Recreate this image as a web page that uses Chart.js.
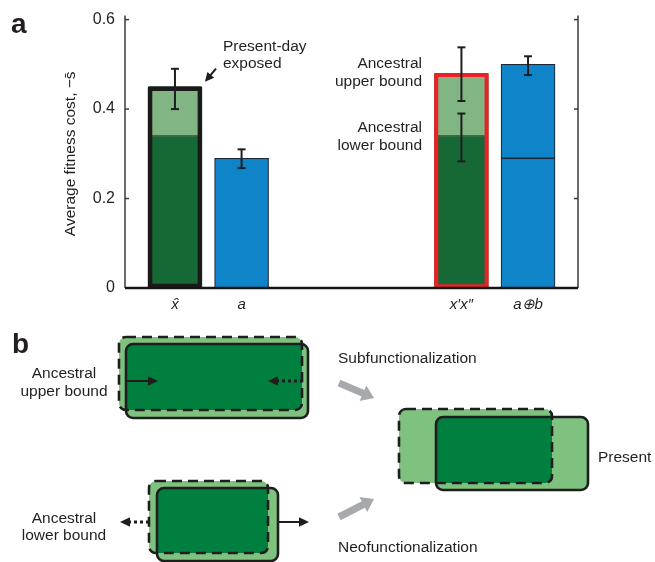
<!DOCTYPE html>
<html>
<head>
<meta charset="utf-8">
<script src="https://cdn.jsdelivr.net/npm/chart.js@4"></script>
<style>
  html, body { margin: 0; padding: 0; background: #fff; }
  #wrap { position: relative; width: 655px; height: 562px; overflow: hidden; }
  #chartBox { position: absolute; left: 0; top: 0; width: 655px; height: 320px; }
  #diagram { position: absolute; left: 0; top: 0; }
  #diagram text { font-family: "Liberation Sans", Arial, sans-serif; fill: #231f20; }
</style>
</head>
<body>
<div id="wrap">
  <div id="chartBox"><canvas id="c" width="655" height="320"></canvas></div>
  <svg id="diagram" width="655" height="562" xmlns="http://www.w3.org/2000/svg"></svg>
</div>
<script>
// ---- data: average fitness cost per gene set ----
const categories   = ['x\u0302', 'a', 'x\u2032x\u2033', 'a\u2295b'];
const positions    = [0.75, 1.75, 5.05, 6.05];     // bar centres on the x scale
const lowerValues  = [0.34, 0.29, 0.34, 0.29];     // lower (dark) segment
const totalValues  = [0.45, 0.29, 0.48, 0.50];     // full bar height
// error bars: bar index, low, high
const errIndex = [0, 1, 2, 2, 3];
const errLow   = [0.40, 0.268, 0.418, 0.283, 0.476];
const errHigh  = [0.49, 0.310, 0.538, 0.390, 0.518];
const yTicks   = [0, 0.2, 0.4, 0.6];

const FONT = '"Liberation Sans", Arial, Helvetica, sans-serif';
const DARK_GREEN = '#166835', LIGHT_GREEN = '#82b584', BLUE = '#0f84c8', NAVY = '#1d2a38';
const isGreen = [true, false, true, false];

function line(ctx, x1, y1, x2, y2) { ctx.beginPath(); ctx.moveTo(x1, y1); ctx.lineTo(x2, y2); ctx.stroke(); }

const axesPlugin = {
  id: 'axesAndNotes',
  afterDatasetsDraw(chart) {
    const { ctx, chartArea: { left, right }, scales: { x, y } } = chart;
    const y0 = y.getPixelForValue(0);
    ctx.save();
    // side axes with inward ticks
    ctx.strokeStyle = '#3a3a3a'; ctx.lineWidth = 1.5;
    [left, right].forEach(px => line(ctx, px, y0, px, y.getPixelForValue(0.6) - 4));
    yTicks.forEach(v => {
      const py = y.getPixelForValue(v);
      line(ctx, left, py, left + 4, py);
      line(ctx, right, py, right - 4, py);
    });
    // baseline
    ctx.strokeStyle = '#151515'; ctx.lineWidth = 2.5;
    line(ctx, left, y0, right, y0);
    // error bars
    ctx.strokeStyle = '#1e1e1e'; ctx.lineWidth = 2;
    errIndex.forEach((bi, k) => {
      const px = x.getPixelForValue(positions[bi]);
      const pl = y.getPixelForValue(errLow[k]), ph = y.getPixelForValue(errHigh[k]);
      line(ctx, px, pl, px, ph);
      line(ctx, px - 4, pl, px + 4, pl);
      line(ctx, px - 4, ph, px + 4, ph);
    });
    // arrow pointing to the exposed bar
    const tipX = x.getPixelForValue(positions[0]) + 30, tipY = y.getPixelForValue(totalValues[0]) - 5;
    const tailX = tipX + 11, tailY = tipY - 13;
    const ang = Math.atan2(tipY - tailY, tipX - tailX);
    ctx.lineWidth = 2;
    line(ctx, tailX, tailY, tipX - 6 * Math.cos(ang), tipY - 6 * Math.sin(ang));
    ctx.fillStyle = '#1e1e1e';
    ctx.beginPath();
    ctx.moveTo(tipX, tipY);
    ctx.lineTo(tipX - 9 * Math.cos(ang) + 4.5 * Math.sin(ang), tipY - 9 * Math.sin(ang) - 4.5 * Math.cos(ang));
    ctx.lineTo(tipX - 9 * Math.cos(ang) - 4.5 * Math.sin(ang), tipY - 9 * Math.sin(ang) + 4.5 * Math.cos(ang));
    ctx.closePath(); ctx.fill();
    // text notes
    ctx.fillStyle = '#231f20';
    ctx.font = '15.5px ' + FONT;
    ctx.textAlign = 'left';
    ctx.fillText('Present-day', 223, 51);
    ctx.fillText('exposed', 223, 68);
    ctx.textAlign = 'right';
    ctx.fillText('Ancestral', 422, 68);
    ctx.fillText('upper bound', 422, 86);
    ctx.fillText('Ancestral', 422, 132);
    ctx.fillText('lower bound', 422, 150);
    // panel letter
    ctx.textAlign = 'left';
    ctx.font = 'bold 28px ' + FONT;
    ctx.fillText('a', 11, 33);
    ctx.restore();
  }
};

new Chart(document.getElementById('c'), {
  type: 'bar',
  data: {
    datasets: [
      {
        label: 'outline',
        data: positions.map((px, i) => ({ x: px, y: [0, totalValues[i]] })),
        backgroundColor: 'rgba(0,0,0,0)',
        borderColor: ['#1a1a1a', 'rgba(0,0,0,0)', '#ec2127', 'rgba(0,0,0,0)'],
        borderWidth: [4, 0, 3.5, 0],
        borderRadius: 2,
        borderSkipped: false
      },
      {
        label: 'upper',
        data: positions.map((px, i) => ({ x: px, y: totalValues[i] > lowerValues[i] ? [lowerValues[i], totalValues[i]] : null })),
        backgroundColor: isGreen.map(g => g ? LIGHT_GREEN : BLUE),
        borderColor: isGreen.map(g => g ? '#3f6b4a' : NAVY),
        borderWidth: 1.2,
        borderSkipped: false
      },
      {
        label: 'lower',
        data: positions.map((px, i) => ({ x: px, y: lowerValues[i] })),
        backgroundColor: isGreen.map(g => g ? DARK_GREEN : BLUE),
        borderColor: isGreen.map(g => g ? '#3f6b4a' : NAVY),
        borderWidth: 1.2,
        borderSkipped: false
      }
    ]
  },
  options: {
    responsive: false,
    animation: false,
    devicePixelRatio: 1,
    layout: { padding: { top: 17, right: 77, left: 0, bottom: 0 } },
    datasets: { bar: { grouped: false, barThickness: 54 } },
    plugins: { legend: { display: false }, tooltip: { enabled: false } },
    scales: {
      x: {
        type: 'linear', min: 0, max: 6.8, offset: false,
        grid: { display: false, drawTicks: false },
        border: { display: false },
        afterBuildTicks: s => { s.ticks = positions.map(v => ({ value: v })); },
        afterFit: s => { s.height = 32; },
        ticks: {
          autoSkip: false, maxRotation: 0, minRotation: 0, padding: 8, color: '#231f20',
          font: { family: FONT, size: 15, style: 'italic' },
          callback: (v, i) => categories[i]
        }
      },
      y: {
        min: 0, max: 0.6,
        grid: { display: false, drawTicks: false },
        border: { display: false },
        afterBuildTicks: s => { s.ticks = yTicks.map(v => ({ value: v })); },
        afterFit: s => { s.width = 125; },
        ticks: {
          padding: 10, color: '#231f20',
          font: { family: FONT, size: 16 },
          callback: v => (v === 0 ? '0' : v.toFixed(1))
        },
        title: {
          display: true, text: 'Average fitness cost, \u2212s\u0304', color: '#231f20',
          font: { family: FONT, size: 15.5 },
          padding: { top: 61, bottom: 0 }
        }
      }
    }
  },
  plugins: [axesPlugin]
});

// ---- panel b: schematic of ancestral bounds ----
const NS = 'http://www.w3.org/2000/svg';
const svg = document.getElementById('diagram');
function el(tag, attrs, parent) {
  const e = document.createElementNS(NS, tag);
  for (const k in attrs) e.setAttribute(k, attrs[k]);
  (parent || svg).appendChild(e);
  return e;
}
const D_GREEN = '#007f3f', L_GREEN = '#7fc280', INK = '#1e1e1e';
const boxes = [
  { dashed: [119, 337, 183, 73], solid: [126, 344, 182, 74] },
  { dashed: [149, 481, 119, 72], solid: [157, 488, 121, 73] },
  { dashed: [399, 409, 153, 74], solid: [436, 417, 152, 73] }
];
const defs = el('defs', {});
boxes.forEach((b, k) => {
  const r = (a, extra) => Object.assign({ x: a[0], y: a[1], width: a[2], height: a[3], rx: 7, ry: 7 }, extra);
  const cp = el('clipPath', { id: 'clip' + k }, defs);
  el('rect', r(b.solid, {}), cp);
  el('rect', r(b.dashed, { fill: L_GREEN }));
  el('rect', r(b.solid, { fill: L_GREEN }));
  el('rect', r(b.dashed, { fill: D_GREEN, 'clip-path': 'url(#clip' + k + ')' }));
  el('rect', r(b.solid, { fill: 'none', stroke: INK, 'stroke-width': 2.6 }));
  el('rect', r(b.dashed, { fill: 'none', stroke: INK, 'stroke-width': 2.6, 'stroke-dasharray': '10 6' }));
});

function arrow(x1, y1, x2, y2, dotted) {
  const a = Math.atan2(y2 - y1, x2 - x1), c = Math.cos(a), s = Math.sin(a);
  const hl = 10, hw = 4.8;
  el('line', { x1, y1, x2: x2 - hl * c + c, y2: y2 - hl * s + s, stroke: INK,
    'stroke-width': dotted ? 3 : 2, 'stroke-dasharray': dotted ? '3 3' : 'none' });
  el('polygon', { fill: INK, points: [x2, y2, x2 - hl * c - hw * s, y2 - hl * s + hw * c, x2 - hl * c + hw * s, y2 - hl * s - hw * c].join(' ') });
}
arrow(127, 381, 158, 381, false);
arrow(303, 381, 268, 381, true);
arrow(149, 522, 120, 522, true);
arrow(278, 522, 309, 522, false);

function fatArrow(x1, y1, x2, y2) {
  const a = Math.atan2(y2 - y1, x2 - x1), c = Math.cos(a), s = Math.sin(a);
  const sw = 3.6, hl = 12, hw = 8.5;
  const bx = x2 - hl * c, by = y2 - hl * s;
  const pts = [
    [x1 - sw * s, y1 + sw * c], [bx - sw * s, by + sw * c], [bx - hw * s, by + hw * c],
    [x2, y2], [bx + hw * s, by - hw * c], [bx + sw * s, by - sw * c], [x1 + sw * s, y1 - sw * c]
  ];
  el('polygon', { fill: '#a7a9ac', points: pts.map(p => p.join(',')).join(' ') });
}
fatArrow(339, 383, 374, 398);
fatArrow(339, 517, 374, 499);

function txt(str, x, y, anchor, size, weight) {
  const t = el('text', { x, y, 'text-anchor': anchor || 'start', 'font-size': size || 15.5, 'font-weight': weight || 'normal' });
  t.textContent = str;
}
txt('b', 12, 353, 'start', 28, 'bold');
txt('Ancestral', 64, 378, 'middle');
txt('upper bound', 64, 395.5, 'middle');
txt('Ancestral', 64, 522.5, 'middle');
txt('lower bound', 64, 540, 'middle');
txt('Subfunctionalization', 338, 363);
txt('Neofunctionalization', 338, 551.5);
txt('Present', 598, 461.5);
</script>
</body>
</html>
